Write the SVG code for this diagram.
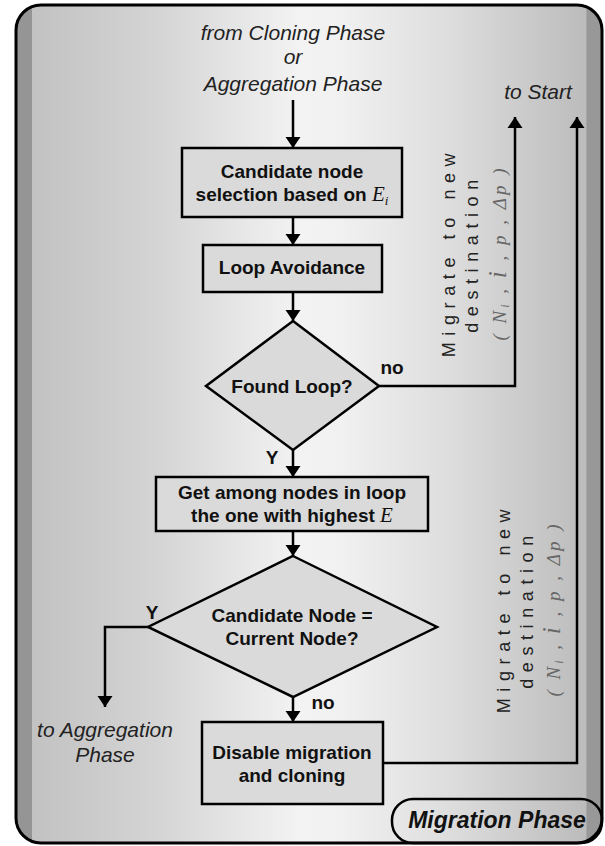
<svg xmlns="http://www.w3.org/2000/svg" width="605" height="846" viewBox="0 0 605 846">
<defs>
<linearGradient id="bg" gradientUnits="userSpaceOnUse" x1="16" y1="0" x2="602" y2="0">
<stop offset="0" stop-color="#959595"/>
<stop offset="0.0273" stop-color="#959595"/>
<stop offset="0.0274" stop-color="#c2c2c2"/>
<stop offset="0.229" stop-color="#d3d3d3"/>
<stop offset="0.485" stop-color="#f3f3f3"/>
<stop offset="0.553" stop-color="#f1f1f1"/>
<stop offset="0.741" stop-color="#dddddd"/>
<stop offset="0.973" stop-color="#bcbcbc"/>
<stop offset="0.974" stop-color="#989898"/>
<stop offset="1" stop-color="#989898"/>
</linearGradient>
<marker id="ah" markerUnits="userSpaceOnUse" markerWidth="12" markerHeight="16" refX="11" refY="8" orient="auto">
<path d="M0,0.5 L11,8 L0,15.5 z" fill="#000"/>
</marker>
<style>
.box{fill:#dadada;stroke:#000;stroke-width:2.5}
.t{font-family:"Liberation Sans",Arial,sans-serif;font-weight:bold;font-size:19px;fill:#111;text-anchor:middle}
.it{font-family:"Liberation Sans",Arial,sans-serif;font-style:italic;font-size:21px;fill:#222;text-anchor:middle}
.e{font-family:"Liberation Serif","Times New Roman",serif;font-style:italic;font-weight:normal}
.c{fill:none;stroke:#000;stroke-width:2.5}
.ca{fill:none;stroke:#000;stroke-width:2.5;marker-end:url(#ah)}
.rot{font-family:"Liberation Sans",Arial,sans-serif;font-size:18px;fill:#222;letter-spacing:6.6px;text-anchor:middle}
.f{font-family:"Liberation Serif","Times New Roman",serif;font-style:italic;font-size:19px;fill:#666;letter-spacing:3px;text-anchor:middle}
</style>
</defs>
<g id="frame">
<rect x="16" y="5" width="586" height="838" rx="25" ry="25" fill="url(#bg)" stroke="#000" stroke-width="3"/>
</g>
<g id="connectors">
<line class="ca" x1="293" y1="100" x2="293" y2="148"/>
<line class="ca" x1="293" y1="217" x2="293" y2="245"/>
<line class="ca" x1="293" y1="292" x2="293" y2="321"/>
<line class="ca" x1="293" y1="450" x2="293" y2="477"/>
<line class="ca" x1="293" y1="531" x2="293" y2="556"/>
<line class="ca" x1="293" y1="697" x2="293" y2="722"/>
<polyline class="ca" points="379,386 515,386 515,117"/>
<polyline class="ca" points="383,763 577,763 577,117"/>
<polyline class="ca" points="148,627 105,627 105,707"/>
</g>
<g id="labels">
<text class="it" x="293" y="40">from Cloning Phase</text>
<text class="it" x="293" y="64">or</text>
<text class="it" x="293" y="91">Aggregation Phase</text>
<text class="it" x="538" y="99">to Start</text>
<text class="it" x="105" y="737">to Aggregation</text>
<text class="it" x="105" y="762">Phase</text>
<text class="t" x="392" y="374">no</text>
<text class="t" x="272" y="464">Y</text>
<text class="t" x="152" y="619">Y</text>
<text class="t" x="323" y="709">no</text>
</g>
<g id="migrate1">
<text class="rot" transform="translate(455,252) rotate(-90)">Migrate to new</text>
<text class="rot" transform="translate(478,253) rotate(-90)">destination</text>
<text class="f" transform="translate(506,253) rotate(-90)">( N<tspan font-size="12" dy="3">i</tspan><tspan dy="-3"> , </tspan><tspan font-size="25">i</tspan> , p , Δp )</text>
</g>
<g id="migrate2">
<text class="rot" transform="translate(510,608) rotate(-90)">Migrate to new</text>
<text class="rot" transform="translate(533,609) rotate(-90)">destination</text>
<text class="f" transform="translate(560,609) rotate(-90)">( N<tspan font-size="12" dy="3">i</tspan><tspan dy="-3"> , </tspan><tspan font-size="25">i</tspan> , p , Δp )</text>
</g>
<g id="n1">
<rect class="box" x="182" y="148" width="220" height="69"/>
<text class="t" x="292" y="178">Candidate node</text>
<text class="t" x="292" y="201">selection based on <tspan class="e" font-size="21">E</tspan><tspan class="e" font-size="13" dy="4">i</tspan></text>
</g>
<g id="n2">
<rect class="box" x="203" y="245" width="179" height="47"/>
<text class="t" x="292" y="274">Loop Avoidance</text>
</g>
<g id="n3">
<polygon class="box" points="293,321 379,386 293,450 206,386"/>
<text class="t" x="292" y="393">Found Loop?</text>
</g>
<g id="n4">
<rect class="box" x="156" y="477" width="272" height="54"/>
<text class="t" x="292" y="499">Get among nodes in loop</text>
<text class="t" x="292" y="522">the one with highest <tspan class="e" font-size="21">E</tspan></text>
</g>
<g id="n5">
<polygon class="box" points="293,556 437,627 293,697 148,627"/>
<text class="t" x="292" y="622">Candidate Node =</text>
<text class="t" x="292" y="645">Current Node?</text>
</g>
<g id="n6">
<rect class="box" x="202" y="722" width="181" height="82"/>
<text class="t" x="292" y="759">Disable migration</text>
<text class="t" x="292" y="782">and cloning</text>
</g>
<g id="phase">
<rect x="392" y="799" width="210" height="44" rx="21" ry="21" fill="none" stroke="#000" stroke-width="2.5"/>
<text x="497" y="828" font-family="Liberation Sans, Arial, sans-serif" font-weight="bold" font-style="italic" font-size="23" fill="#111" text-anchor="middle">Migration Phase</text>
</g>
</svg>
